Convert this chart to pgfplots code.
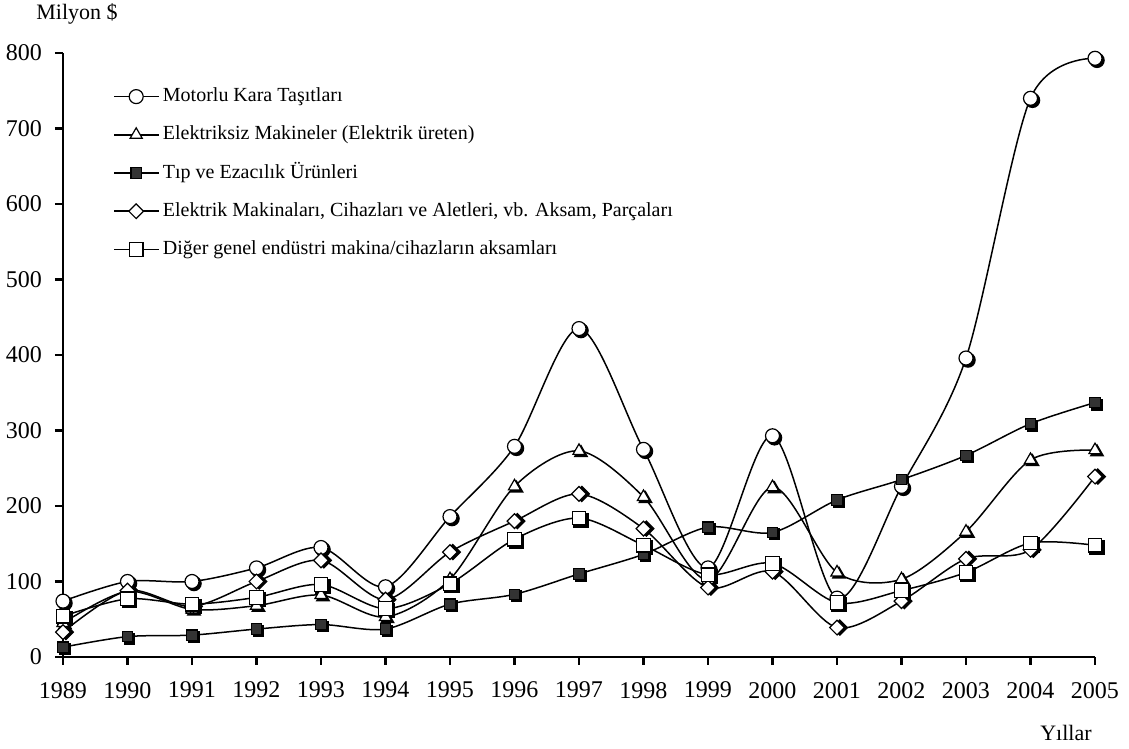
\documentclass[border=0pt]{standalone}
\usepackage{pgfplots}
\pgfplotsset{compat=1.18}
\usepackage{pgfplotstable}
\usepackage{fontspec}
\setmainfont{Liberation Serif}
\pgfplotstableread{
year mot ele tip elk dig
1989 74 45 13 33 54
1990 100 87 27 88 77
1991 100 63 29 67 70
1992 118 68 37 100 79
1993 145 82 43 128 96
1994 93 53 37 76 64
1995 186 103 70 139 97
1996 279 226 83 180 156
1997 435 273 110 216 184
1998 275 212 136 170 148
1999 118 102 172 92 109
2000 293 225 165 113 124
2001 78 112 208 39 72
2002 226 103 235 74 88
2003 396 166 267 130 112
2004 740 261 309 142 151
2005 793 274 337 239 148
}\data
\begin{document}
\begin{tikzpicture}
\begin{axis}[
  at={(0,0)}, anchor=south west,
  scale only axis, width=516pt, height=302pt,
  xmin=1989, xmax=2005, ymin=0, ymax=800,
  axis x line=bottom, axis y line=left,
  axis line style={line width=1.2pt,-},
  xtick={1989,...,2005}, ytick={0,100,...,800},
  x tick label style={/pgf/number format/1000 sep={}},
  /pgf/number format/assume math mode=true,
  tick style={line width=1.2pt, black},
  tick align=outside, major tick length=4pt,
  ticklabel style={font=\fontsize{12}{14}\selectfont},
  xticklabel style={yshift=-5pt},
  yticklabel style={xshift=-3pt},
  legend style={draw=none, fill=none, at={(0.0485,0.95)}, anchor=north west,
    font=\fontsize{10}{12}\selectfont, row sep=6.1pt, inner sep=0pt,
    nodes={text height=7pt, text depth=2pt}},
  legend cell align=left,
  legend image code/.code={\draw[mark repeat=2,mark phase=2] plot coordinates {(0pt,0pt)(11pt,0pt)(22pt,0pt)};},
  every axis plot/.append style={line width=0.75pt, black},
]
% shadows
\addplot[forget plot, only marks, mark=*, mark size=3.5pt, mark options={fill=black, xshift=1pt, yshift=-1pt}] table[x=year,y=mot]{\data};
\addplot[forget plot, only marks, mark=triangle*, mark size=3.5pt, mark options={fill=black, xshift=1pt, yshift=-1pt}] table[x=year,y=ele]{\data};
\addplot[forget plot, only marks, mark=square*, mark size=2.6pt, mark options={fill=black, xshift=1pt, yshift=-1pt}] table[x=year,y=tip]{\data};
\addplot[forget plot, only marks, mark=square*, mark size=2.6pt, mark options={fill=black, rotate=45, xshift=1pt, yshift=-1pt}] table[x=year,y=elk]{\data};
\addplot[forget plot, only marks, mark=square*, mark size=3.4pt, mark options={fill=black, xshift=1pt, yshift=-1pt}] table[x=year,y=dig]{\data};
% series
\addplot[smooth, tension=0.5, mark=*, mark size=3.5pt, mark options={fill=white, line width=0.6pt}] table[x=year,y=mot]{\data};
\addlegendentry{Motorlu Kara Taşıtları}
\addplot[smooth, tension=0.5, mark=triangle*, mark size=3.5pt, mark options={fill=white, line width=0.6pt}] table[x=year,y=ele]{\data};
\addlegendentry{Elektriksiz Makineler (Elektrik üreten)}
\addplot[smooth, tension=0.5, mark=square*, mark size=2.6pt, mark options={fill=black!80, line width=0.6pt}] table[x=year,y=tip]{\data};
\addlegendentry{Tıp ve Ezacılık Ürünleri}
\addplot[smooth, tension=0.5, mark=square*, mark size=2.6pt, mark options={fill=white, rotate=45, line width=0.6pt}] table[x=year,y=elk]{\data};
\addlegendentry{Elektrik Makinaları, Cihazları ve Aletleri, vb. Aksam, Parçaları}
\addplot[smooth, tension=0.5, mark=square*, mark size=3.4pt, mark options={fill=white, line width=0.6pt}] table[x=year,y=dig]{\data};
\addlegendentry{Diğer genel endüstri makina/cihazların aksamları}
\end{axis}
\node[font=\fontsize{11}{13}\selectfont] at (7pt,321.5pt) {Milyon \$};
\node[font=\fontsize{11}{13}\selectfont] at (501.5pt,-38pt) {Yıllar};
\pgfresetboundingbox
\path[use as bounding box] (-31.5pt,-46pt) rectangle (533pt,328.5pt);
\end{tikzpicture}
\end{document}
